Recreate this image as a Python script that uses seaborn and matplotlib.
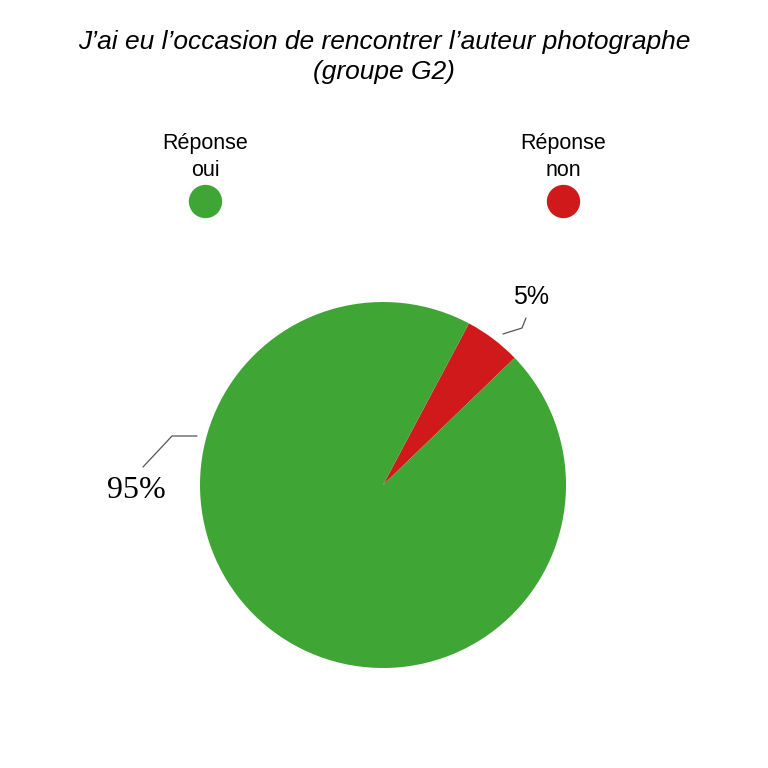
import matplotlib
matplotlib.use("Agg")
import matplotlib.pyplot as plt
import seaborn as sns

# Données du graphique
categories = ["Réponse non", "Réponse oui"]
valeurs = [5, 95]
etiquettes = ["5%", "95%"]
couleurs = ["#D0191B", "#3FA535"]

titre = "J\u2019ai eu l\u2019occasion de rencontrer l\u2019auteur photographe\n(groupe G2)"

sns.set_theme(style="white")
plt.rcParams['font.family'] = ['Liberation Sans', 'DejaVu Sans']
plt.rcParams['text.color'] = 'black'

fig = plt.figure(figsize=(7.68, 7.68), dpi=100)
W = H = 768.0

# Position du camembert (centre et rayon en pixels)
cx, cy, r = 383, 485, 183
ax = fig.add_axes([(cx - r) / W, 1 - (cy + r) / H, 2 * r / W, 2 * r / H])

wedges, _ = ax.pie(valeurs, colors=couleurs, startangle=62, counterclock=False,
                   radius=1, wedgeprops=dict(linewidth=0))
ax.set_xlim(-1, 1)
ax.set_ylim(-1, 1)
ax.set_aspect('equal')
ax.axis('off')

def px(x, y):
    return ((x - cx) / r, (cy - y) / r)

# Lignes de rappel et étiquettes
l5 = [px(503, 334), px(522, 328), px(526, 318)]
ax.plot([p[0] for p in l5], [p[1] for p in l5], color="#555555", lw=0.9, clip_on=False)
x, y = px(531, 297)
ax.text(x, y, etiquettes[0], ha='center', va='center', fontsize=18, color='black')

l95 = [px(143, 467), px(172, 436), px(197, 436)]
ax.plot([p[0] for p in l95], [p[1] for p in l95], color="#555555", lw=0.9, clip_on=False)
x, y = px(136, 490)
ax.text(x, y, etiquettes[1], ha='center', va='center', fontsize=23, color='black',
        family=['Liberation Serif', 'DejaVu Serif'])

# Titre
fig.text(0.5, 1 - 57 / H, titre, ha='center', va='center', fontsize=19,
         style='italic', linespacing=1.3)

# Légende : texte au-dessus d'un disque coloré
leg = fig.add_axes([0, 0, 1, 1])
leg.set_xlim(0, W)
leg.set_ylim(H, 0)
leg.axis('off')
for nom, coul, lx in [(categories[1], couleurs[1], 205), (categories[0], couleurs[0], 563)]:
    mot, rep = nom.split(" ")
    leg.text(lx, 157, mot + "\n" + rep, ha='center', va='center', fontsize=15.5,
             linespacing=1.4)
    leg.plot([lx], [201], marker='o', markersize=23, color=coul, linestyle='none')

plt.savefig("out.png", dpi=100)
